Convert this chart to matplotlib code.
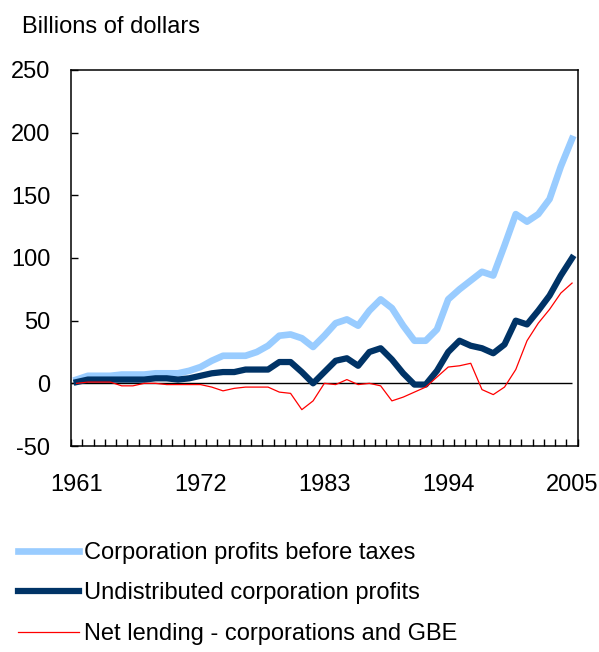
import numpy as np
import matplotlib
matplotlib.use("Agg")
from matplotlib import pyplot as plt

years = list(range(1961, 2006))

profits_before_tax = [3, 6, 6, 6, 7, 7, 7, 8, 8, 8,
                      10, 13, 18, 22, 22, 22, 25, 30, 38, 39,
                      36, 29, 38, 48, 51, 46, 58, 67, 60, 46,
                      34, 34, 43, 67, 75, 82, 89, 86, 110, 135,
                      129, 135, 147, 173, 195]

undistributed = [1, 3, 3, 3, 3, 3, 3, 4, 4, 3,
                 4, 6, 8, 9, 9, 11, 11, 11, 17, 17,
                 9, 0, 9, 18, 20, 14, 25, 28, 19, 8,
                 -1, -1, 10, 25, 34, 30, 28, 24, 31, 50,
                 47, 58, 70, 86, 100]

net_lending = [0, 1, 1, 1, -2, -2, 0, 0, -1, -1,
               -1, -1, -3, -6, -4, -3, -3, -3, -7, -8,
               -21, -14, 0, -1, 3, -1, 0, -2, -14, -11,
               -7, -3, 5, 13, 14, 16, -5, -9, -3, 11,
               34, 48, 59, 72, 80]

label_years = [1961, 1972, 1983, 1994, 2005]
series_names = ['Corporation profits before taxes',
                'Undistributed corporation profits',
                'Net lending - corporations and GBE']

plt.rcParams['font.family'] = ['Liberation Sans', 'DejaVu Sans']
plt.rcParams['axes.unicode_minus'] = False
fs = 17

fig = plt.figure(figsize=(5.99, 6.52), dpi=100)
ax = fig.add_axes([71 / 599, 1 - 446 / 652, 506.7 / 599, 376 / 652])

x = np.arange(len(years))
ax.hlines(0, x[0] - 0.5, x[-1], color='black', linewidth=1, zorder=1.5)
l1, = ax.plot(x, profits_before_tax, color='#99ccff', linewidth=4.8,
              solid_joinstyle='round', zorder=2)
l2, = ax.plot(x, undistributed, color='#003366', linewidth=4.5,
              solid_joinstyle='round', zorder=3)
l3, = ax.plot(x, net_lending, color='#ff0000', linewidth=0.9, zorder=4)

ax.set_xlim(-0.5, len(years) - 0.5)
ax.set_ylim(-50, 250)
ax.set_yticks(np.arange(-50, 251, 50))

# ticks between categories, labels on the years
ax.set_xticks(np.arange(len(years) + 1) - 0.5)
ax.set_xticklabels([])
ax.set_xticks([years.index(y) for y in label_years], minor=True)
ax.set_xticklabels([str(y) for y in label_years], minor=True)
ax.tick_params(axis='x', which='major', direction='in', length=5, width=1)
ax.tick_params(axis='x', which='minor', length=0, pad=20, labelsize=fs)
ax.tick_params(axis='y', direction='in', length=5, width=1, pad=15, labelsize=fs)

for sp in ax.spines.values():
    sp.set_linewidth(1.1)
    sp.set_color('black')

fig.text(22 / 599, 1 - 33 / 652, 'Billions of dollars', fontsize=fs,
         va='baseline', ha='left')

fig.legend([l1, l2, l3], series_names, loc='upper left',
           bbox_to_anchor=(18 / 599, 1 - 542 / 652), frameon=False,
           fontsize=fs, handlelength=2.6, handletextpad=0.2,
           labelspacing=0.78, borderpad=0, borderaxespad=0)

fig.savefig('out.png', dpi=100)
